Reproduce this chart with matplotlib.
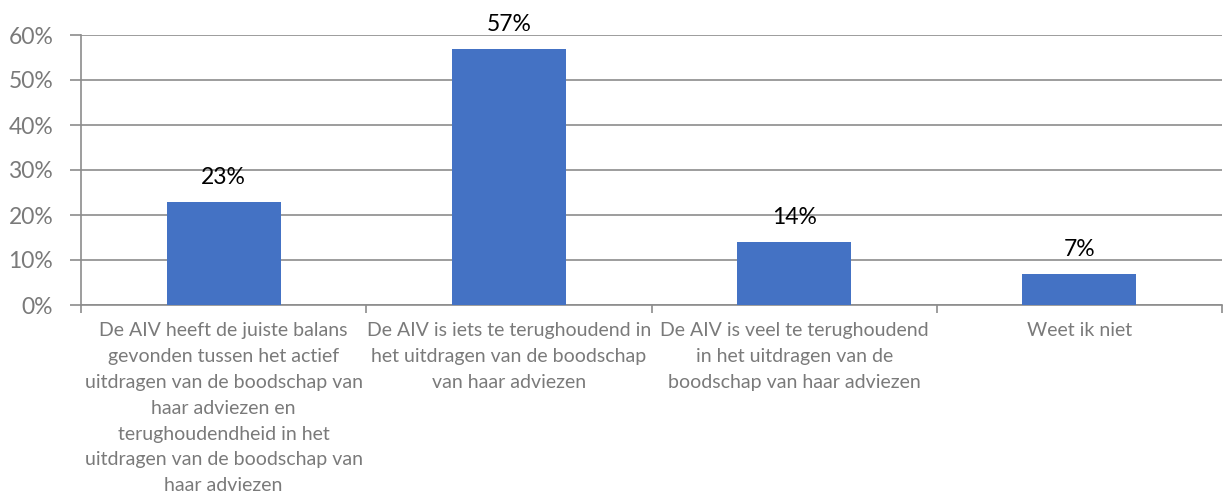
import numpy as np
import matplotlib.pyplot as plt

# DATA
categories = [
    "De AIV heeft de juiste balans\ngevonden tussen het actief\nuitdragen van de boodschap van\nhaar adviezen en\nterughoudendheid in het\nuitdragen van de boodschap van\nhaar adviezen",
    "De AIV is iets te terughoudend in\nhet uitdragen van de boodschap\nvan haar adviezen",
    "De AIV is veel te terughoudend\nin het uitdragen van de\nboodschap van haar adviezen",
    "Weet ik niet",
]
values = [23, 57, 14, 7]
y_ticks = [0, 10, 20, 30, 40, 50, 60]

# STYLE
plt.rcParams['font.family'] = ['Lato', 'DejaVu Sans']
bar_color = "#4472C4"
grid_color = "#8C8C8C"
text_gray = "#7A7A7A"

fig = plt.figure(figsize=(12.23, 5.0), dpi=100)
ax = fig.add_axes([81 / 1223, 1 - 305 / 500, 1141 / 1223, 270 / 500])

x = np.arange(len(values))
bars = ax.bar(x, values, width=0.4, color=bar_color, zorder=3)

# data labels above bars
for xi, v in zip(x, values):
    ax.text(xi, v + 3.0, f"{v}%", ha="center", va="bottom", fontsize=16.5, color="black")

ax.set_xlim(-0.5, len(values) - 0.5)
ax.set_ylim(0, 60)
ax.set_yticks(y_ticks)
ax.set_yticklabels([f"{t}%" for t in y_ticks], fontsize=16.5, color=text_gray)
ax.yaxis.grid(True, color=grid_color, linewidth=1.2, zorder=0)
ax.tick_params(axis="y", length=8, width=1.2, color=grid_color, pad=12)

# category labels at centers, tick marks at boundaries
ax.set_xticks(x)
ax.set_xticklabels(categories, fontsize=14, color=text_gray, linespacing=1.64, va="top")
ax.tick_params(axis="x", which="major", length=0, pad=12)
ax.set_xticks(np.arange(-0.5, len(values)), minor=True)
ax.tick_params(axis="x", which="minor", length=6, width=1.2, color=grid_color)

for side in ["top", "right"]:
    ax.spines[side].set_visible(False)
for side in ["left", "bottom"]:
    ax.spines[side].set_color(grid_color)
    ax.spines[side].set_linewidth(1.2)

fig.savefig("out.png", dpi=100)
